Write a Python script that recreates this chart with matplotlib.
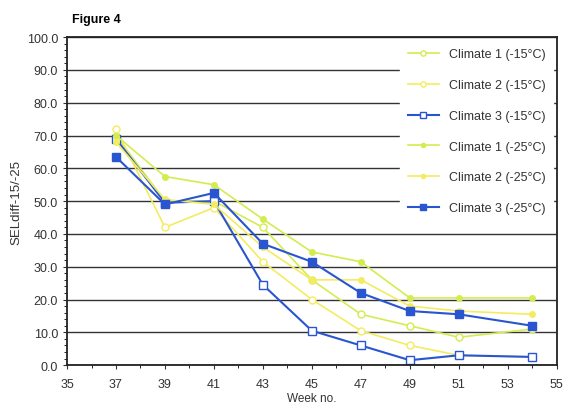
import matplotlib.pyplot as plt
from matplotlib.ticker import MultipleLocator

weeks = [37, 39, 41, 43, 45, 47, 49, 51, 54]
c1_15 = [70.0, 50.0, 50.0, 42.0, 26.0, 15.5, 12.0, 8.5, 11.0]
c2_15 = [72.0, 42.0, 48.0, 31.5, 20.0, 10.5, 6.0, 3.0, 2.5]
c3_15 = [69.0, 49.5, 50.0, 24.5, 10.5, 6.0, 1.5, 3.0, 2.5]
c1_25 = [70.0, 57.5, 55.0, 44.5, 34.5, 31.5, 20.5, 20.5, 20.5]
c2_25 = [68.0, 50.5, 49.0, 36.0, 26.0, 26.0, 18.0, 16.5, 15.5]
c3_25 = [63.5, 49.0, 52.5, 37.0, 31.5, 22.0, 16.5, 15.5, 12.0]

xticks = [35, 37, 39, 41, 43, 45, 47, 49, 51, 53, 55]
labels = ['Climate 1 (-15°C)', 'Climate 2 (-15°C)', 'Climate 3 (-15°C)',
          'Climate 1 (-25°C)', 'Climate 2 (-25°C)', 'Climate 3 (-25°C)']

green = '#d4ec50'
yellow = '#f4ec60'
blue = '#2a55d0'


def main():
    plt.rcParams['font.family'] = ['Liberation Sans', 'DejaVu Sans']
    fig = plt.figure(figsize=(5.68, 4.10), dpi=100)
    ax = fig.add_axes([0.118, 0.107, 0.862, 0.800])

    ax.plot(weeks, c1_15, color=green, lw=1.2, marker='o', ms=5, mfc='white', mec=green, label=labels[0])
    ax.plot(weeks, c2_15, color=yellow, lw=1.2, marker='o', ms=5, mfc='white', mec=yellow, label=labels[1])
    ax.plot(weeks, c3_15, color=blue, lw=1.5, marker='s', ms=6, mfc='white', mec=blue, label=labels[2])
    ax.plot(weeks, c1_25, color=green, lw=1.2, marker='o', ms=4, mfc=green, mec=green, label=labels[3])
    ax.plot(weeks, c2_25, color=yellow, lw=1.2, marker='o', ms=4, mfc=yellow, mec=yellow, label=labels[4])
    ax.plot(weeks, c3_25, color=blue, lw=1.5, marker='s', ms=6, mfc=blue, mec=blue, label=labels[5])

    ax.set_xlim(35, 55)
    ax.set_ylim(0, 100)
    ax.set_xticks(xticks)
    ax.xaxis.set_minor_locator(MultipleLocator(1))
    ax.yaxis.set_major_locator(MultipleLocator(10))
    ax.yaxis.set_minor_locator(MultipleLocator(2))
    ax.yaxis.set_major_formatter(lambda v, p: '%.1f' % v)
    ax.tick_params(labelsize=9, colors='#333333', length=3)
    ax.tick_params(axis='x', pad=6)
    ax.tick_params(which='minor', length=2)
    ax.grid(axis='y', color='#333333', lw=1.0)
    ax.set_axisbelow(True)
    for s in ax.spines.values():
        s.set_color('#222222')
        s.set_linewidth(1.3)

    ax.set_xlabel('Week no.', fontsize=8.5, color='#333333', labelpad=2)
    ax.set_ylabel('SELdiff-15/-25', fontsize=9.5, color='#333333', labelpad=3)
    fig.text(0.127, 0.945, 'Figure 4', fontsize=9, fontweight='bold')

    leg = ax.legend(loc='upper right', fontsize=9, frameon=True, fancybox=False,
                    edgecolor='white', framealpha=1, handlelength=2.5, markerscale=0.75,
                    labelspacing=1.5, borderaxespad=0.3, borderpad=0.6)
    for t in leg.get_texts():
        t.set_color('#333333')

    plt.savefig('out.png', dpi=100)


if __name__ == '__main__':
    main()
